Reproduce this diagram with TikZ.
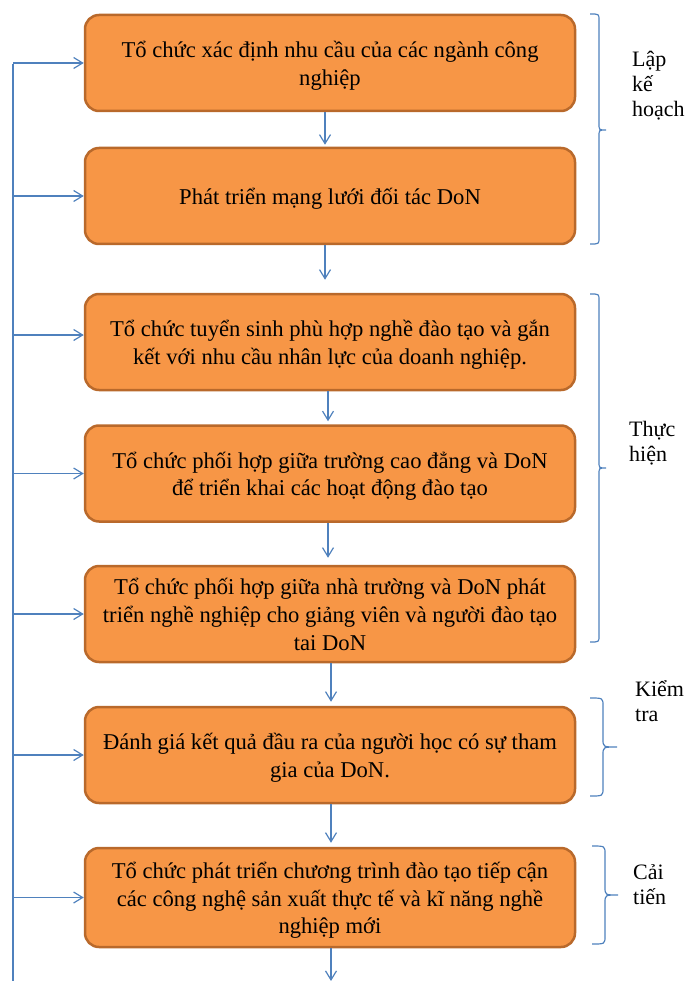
\documentclass[tikz,border=0pt]{standalone}
\usepackage{fontspec}
\setmainfont{Liberation Serif}
\usetikzlibrary{arrows.meta}
\definecolor{boxfill}{HTML}{F79646}
\definecolor{boxline}{HTML}{B9692B}
\definecolor{lineblue}{HTML}{4F81BD}
\newcommand{\boxtxt}[1]{\raisebox{-3pt}[\height][\depth]{\begin{tabular}{@{}c@{}}#1\end{tabular}}}
\begin{document}
\begin{tikzpicture}[x=1pt,y=-1pt,
  box/.style={draw=boxline, fill=boxfill, line width=2.5pt, rounded corners=14pt,
    minimum width=490pt, minimum height=96pt, inner sep=0pt,
    font=\fontsize{22.6}{27.8}\selectfont},
  arr/.style={draw=lineblue, line width=1.2pt, -{Straight Barb[length=9pt,width=11pt]}},
  blue line/.style={draw=lineblue, line width=1.2pt},
  lbl/.style={anchor=base west, align=left, inner sep=0pt,
    font=\fontsize{22}{25}\selectfont}]
\useasboundingbox (0,0) rectangle (688,981);

% boxes
\node[box] (b1) at (330,63) {\boxtxt{Tổ chức xác định nhu cầu của các ngành công\\nghiệp}};
\node[box] (b2) at (330,196) {\boxtxt{Phát triển mạng lưới đối tác DoN}};
\node[box] (b3) at (330,342) {\boxtxt{Tổ chức tuyển sinh phù hợp nghề đào tạo và gắn\\kết với nhu cầu nhân lực của doanh nghiệp.}};
\node[box] (b4) at (330,473.5) {\boxtxt{Tổ chức phối hợp giữa trường cao đẳng và DoN\\để triển khai các hoạt động đào tạo}};
\node[box] (b5) at (330,614) {\boxtxt{Tổ chức phối hợp giữa nhà trường và DoN phát\\triển nghề nghiệp cho giảng viên và người đào tạo\\tai DoN}};
\node[box] (b6) at (330,755) {\boxtxt{Đánh giá kết quả đầu ra của người học có sự tham\\gia của DoN.}};
\node[box, minimum height=99pt] (b7) at (330,897.5) {\boxtxt{Tổ chức phát triển chương trình đào tạo tiếp cận\\các công nghệ sản xuất thực tế và kĩ năng nghề\\nghiệp mới}};

% vertical arrows
\draw[arr, shorten >=2pt] ([xshift=-5pt]b1.south) -- ([xshift=-5pt]b2.north);
\draw[arr, shorten >=13pt] ([xshift=-5pt]b2.south) -- ([xshift=-5pt]b3.north);
\draw[arr, shorten >=3pt] ([xshift=-2pt]b3.south) -- ([xshift=-2pt]b4.north);
\draw[arr, shorten >=7pt] ([xshift=-2pt]b4.south) -- ([xshift=-2pt]b5.north);
\draw[arr, shorten >=4pt] ([xshift=1pt]b5.south) -- ([xshift=1pt]b6.north);
\draw[arr, shorten >=4pt] ([xshift=1pt]b6.south) -- ([xshift=1pt]b7.north);
\coordinate (bend) at (331,981);
\draw[arr] ([xshift=1pt]b7.south) -- (bend);

% left feedback line
\coordinate (Ltop) at (13,64);
\coordinate (Lbot) at (13,981);
\draw[blue line] (Ltop) -- (Lbot);
\draw[arr] (Ltop |- b1.west) -- (b1.west);
\draw[arr] (Ltop |- b2.west) -- (b2.west);
\draw[arr] ([yshift=7pt]Ltop |- b3.west) -- ([yshift=7pt]b3.west);
\draw[arr] (Ltop |- b4.west) -- (b4.west);
\draw[arr] (Ltop |- b5.west) -- (b5.west);
\draw[arr] (Ltop |- b6.west) -- (b6.west);
\draw[arr] (Ltop |- b7.west) -- (b7.west);

% braces
\draw[blue line] (590,14) .. controls (599,14) .. (599,20) -- (599,124) .. controls (599,130) .. (606,130) .. controls (599,130) .. (599,136) -- (599,238) .. controls (599,244) .. (590,244);
\draw[blue line] (590,294) .. controls (599,294) .. (599,300) -- (599,462) .. controls (599,468) .. (606,468) .. controls (599,468) .. (599,474) -- (599,636) .. controls (599,642) .. (590,642);
\draw[blue line] (590,698) .. controls (603,698) .. (603,706) -- (603,739) .. controls (603,747) .. (617,747) .. controls (603,747) .. (603,755) -- (603,788) .. controls (603,796) .. (590,796);
\draw[blue line] (592,846) .. controls (605,846) .. (605,854) -- (605,887) .. controls (605,895) .. (618,895) .. controls (605,895) .. (605,903) -- (605,936) .. controls (605,944) .. (592,944);

% labels
\node[lbl] (l1) at (632,117) {Lập\\kế\\hoạch};
\node[lbl] (l2) at (629,461) {Thực\\hiện};
\node[lbl] (l3) at (635,721) {Kiểm\\tra};
\node[lbl] (l4) at (633,904) {Cải\\tiến};
\end{tikzpicture}
\end{document}
